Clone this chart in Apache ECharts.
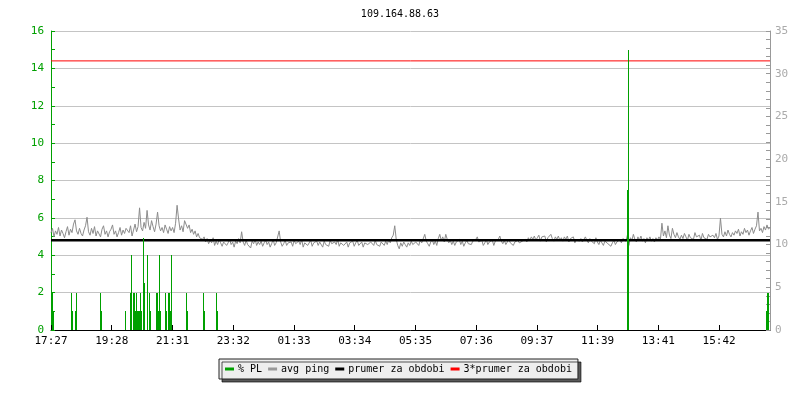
<!DOCTYPE html>
<html><head><meta charset="utf-8">
<script src="https://cdn.jsdelivr.net/npm/echarts@6/dist/echarts.min.js"></script>
<style>html,body{margin:0;padding:0;background:#fff}#c{width:800px;height:400px}</style>
</head><body><div id="c"></div>
<script>
const chartTitle = '109.164.88.63';
const xLabels = ['17:27','19:28','21:31','23:32','01:33','03:34','05:35','07:36','09:37','11:39','13:41','15:42'];
const xTickStep = 121.4;   // minutes between labelled ticks
const xMax = 1437;         // minutes shown (from 17:27)
const pingStep = 3;        // minutes between avg ping samples

// avg ping (ms), right axis
const avgPing = [
  11.4, 11.9, 10.9, 11.6, 11.2, 12.0, 11.0, 11.7, 11.3, 10.8, 11.5, 12.1, 11.1, 11.8, 11.4, 12.4, 12.9, 11.6, 11.2, 11.9,
  11.3, 11.0, 11.7, 12.2, 13.2, 11.5, 11.1, 11.9, 11.3, 12.1, 11.0, 11.6, 11.4, 10.9, 11.8, 12.2, 11.2, 11.6, 10.9, 11.5,
  11.8, 12.3, 11.2, 11.6, 10.9, 11.4, 12.0, 11.1, 11.7, 11.3, 11.9, 12.0, 11.4, 12.2, 11.0, 11.7, 12.4, 11.5, 12.1, 14.3,
  12.0, 11.6, 12.6, 11.9, 14.0, 12.3, 11.7, 12.8, 12.1, 11.5, 12.4, 13.8, 12.2, 11.6, 12.0, 11.4, 12.3, 11.8, 11.3, 12.1,
  11.6, 12.0, 11.4, 12.5, 14.6, 13.0, 11.7, 12.2, 11.5, 12.8, 12.6, 11.9, 12.3, 11.4, 11.8, 11.2, 11.6, 10.9, 11.3, 10.8,
  11.0, 10.6, 10.9, 10.3, 10.7, 10.1, 10.5, 10.2, 10.8, 9.9, 10.4, 10.0, 10.6, 10.2, 9.8, 10.3, 10.5, 9.9, 10.2, 10.6,
  10.0, 10.3, 9.7, 10.4, 10.1, 10.7, 10.2, 11.5, 10.3, 9.9, 10.5, 10.0, 10.2, 9.6, 10.4, 10.1, 10.6, 9.9, 10.3, 10.0,
  10.4, 9.8, 10.2, 10.5, 10.0, 10.3, 9.7, 10.1, 10.6, 9.9, 10.2, 10.4, 11.6, 10.3, 9.8, 10.1, 10.5, 9.9, 10.2, 10.0,
  10.3, 9.8, 10.5, 10.1, 9.9, 10.4, 10.0, 10.6, 9.7, 10.2, 10.3, 9.9, 10.1, 10.5, 9.8, 10.2, 10.0, 10.4, 9.9, 10.3,
  10.1, 9.7, 10.4, 10.0, 10.2, 9.8, 10.5, 10.1, 9.9, 10.3, 10.0, 10.6, 9.8, 10.2, 10.4, 9.9, 10.1, 10.3, 9.7, 10.2,
  10.0, 10.4, 9.8, 10.2, 10.5, 9.9, 10.1, 10.3, 9.7, 10.2, 10.4, 10.0, 9.8, 10.3, 10.1, 9.9, 10.5, 10.0, 10.2, 9.8,
  10.3, 10.1, 9.9, 10.4, 10.0, 10.6, 10.2, 10.8, 11.1, 12.2, 10.6, 9.9, 9.5, 10.2, 9.8, 10.3, 10.0, 9.7, 10.2, 9.9,
  10.4, 10.0, 9.8, 10.3, 10.1, 9.9, 10.5, 10.2, 10.0, 11.2, 10.4, 10.1, 9.8, 10.3, 10.6, 10.0, 10.4, 9.9, 10.7, 11.2,
  10.5, 10.9, 10.3, 11.2, 10.6, 10.2, 10.5, 10.0, 10.4, 9.9, 10.3, 10.1, 10.6, 10.0, 10.4, 9.8, 10.2, 10.5, 10.1, 10.3,
  10.0, 10.4, 10.2, 10.6, 10.9, 10.3, 10.1, 10.5, 9.9, 10.2, 10.6, 10.0, 10.3, 10.1, 10.5, 9.9, 10.4, 10.2, 10.6, 11.0,
  10.4, 10.1, 10.5, 10.0, 10.3, 10.6, 10.2, 10.4, 9.9, 10.3, 10.1, 10.5, 10.2, 10.0, 10.4, 10.2, 10.6, 10.3, 10.8, 10.5,
  10.9, 10.6, 11.0, 10.5, 10.8, 11.1, 10.4, 10.9, 10.7, 11.0, 10.3, 10.8, 10.6, 11.2, 10.7, 10.4, 10.9, 10.6, 11.0, 10.5,
  10.8, 10.4, 10.9, 10.6, 11.0, 10.3, 10.7, 10.5, 10.9, 10.2, 10.6, 10.8, 10.4, 10.7, 10.3, 10.6, 10.9, 10.5, 10.2, 10.7,
  10.4, 10.6, 10.1, 10.8, 10.3, 10.0, 10.5, 10.2, 9.9, 10.4, 10.6, 10.1, 10.3, 9.8, 10.2, 10.5, 10.0, 10.3, 10.1, 10.6,
  10.2, 10.7, 10.9, 10.4, 11.1, 9.9, 10.8, 10.5, 11.2, 10.6, 10.3, 10.9, 10.5, 11.0, 10.4, 10.7, 10.2, 10.8, 10.5, 10.9,
  10.4, 10.7, 10.3, 10.8, 10.5, 10.9, 10.6, 12.5, 11.0, 11.6, 10.8, 12.2, 11.1, 10.7, 11.9, 11.2, 10.8, 11.4, 10.9, 10.6,
  11.1, 10.7, 11.3, 10.9, 10.5, 11.2, 10.8, 11.0, 10.6, 11.4, 10.9, 10.7, 11.1, 10.5, 11.3, 10.8, 11.0, 10.6, 11.2, 10.9,
  10.7, 11.1, 10.8, 11.3, 10.6, 11.0, 13.1, 11.2, 10.9, 11.5, 11.0, 11.7, 11.2, 10.9, 11.4, 11.1, 11.6, 11.3, 11.8, 11.0,
  11.5, 11.2, 11.9, 11.4, 11.7, 11.1, 11.6, 12.0, 11.3, 11.8, 12.2, 13.8, 11.6, 11.9, 11.4, 12.1, 11.7, 12.3, 11.8, 12.0
];

// packet loss (%), left axis
const plMinutes = [2, 4, 40, 42, 48, 50, 98, 100, 148, 158, 160, 164, 166, 168, 170, 172, 174, 176, 178, 180,
  184, 186, 192, 196, 198, 210, 212, 214, 216, 218, 228, 230, 234, 236, 238, 240, 270, 272, 304, 306,
  330, 332, 1152, 1154, 1430, 1432, 1434];
const plValues = [2, 1, 2, 1, 1, 2, 2, 1, 1, 2, 4, 2, 2, 1, 2, 1, 1, 1, 2, 1,
  4.9, 2.5, 4, 2, 1, 2, 2, 1, 4, 1, 2, 1, 2, 2, 1, 4, 2, 1, 2, 1,
  2, 1, 7.5, 15, 1, 2, 2];

const periodAvg = 10.5;       // prumer za obdobi (ms)
const periodAvg3 = 31.5;      // 3*prumer za obdobi (ms)

const mono = 'DejaVu Sans Mono';
const green = '#00a000';
const chart = echarts.init(document.getElementById('c'));
const tickVals = xLabels.map((_, i) => i * xTickStep);

chart.setOption({
  animation: false,
  backgroundColor: '#fff',
  title: {
    text: chartTitle, left: 'center', top: 4,
    textStyle: { fontFamily: mono, fontSize: 10, fontWeight: 'normal', color: '#000' }
  },
  grid: { left: 51, right: 30, top: 31, bottom: 70, containLabel: false },
  legend: {
    left: 219, top: 359, padding: [5, 6], itemWidth: 9, itemHeight: 3, itemGap: 6,
    backgroundColor: '#eeeeee', borderColor: '#222', borderWidth: 1,
    shadowColor: 'rgba(0,0,0,0.65)', shadowOffsetX: 3, shadowOffsetY: 3, shadowBlur: 0,
    textStyle: { fontFamily: mono, fontSize: 10, color: '#000', padding: [0, 0, 0, -1] },
    data: [
      { name: '% PL', icon: 'rect' },
      { name: 'avg ping', icon: 'rect' },
      { name: 'prumer za obdobi', icon: 'rect' },
      { name: '3*prumer za obdobi', icon: 'rect' }
    ]
  },
  xAxis: {
    type: 'value', min: 0, max: xMax,
    axisLine: { lineStyle: { color: '#000', width: 1 } },
    axisTick: { show: true, inside: true, length: 5, customValues: tickVals, lineStyle: { color: '#000' } },
    axisLabel: {
      customValues: tickVals, color: '#000', fontFamily: mono, fontSize: 11, margin: 6,
      formatter: v => xLabels[Math.round(v / xTickStep)] || ''
    },
    splitLine: { show: false }
  },
  yAxis: [
    {
      type: 'value', min: 0, max: 16, interval: 2, position: 'left',
      axisLine: { show: true, lineStyle: { color: green } },
      axisTick: { show: true, inside: true, length: 4, lineStyle: { color: green } },
      minorTick: { show: true, splitNumber: 2, length: 4, lineStyle: { color: green } },
      splitLine: { show: true, lineStyle: { color: '#c4c4c4', width: 1 } },
      axisLabel: { color: green, fontFamily: mono, fontSize: 11, margin: 7 }
    },
    {
      type: 'value', min: 0, max: 35, interval: 5, position: 'right',
      axisLine: { show: true, lineStyle: { color: '#999' } },
      axisTick: { show: true, inside: true, length: 4, lineStyle: { color: '#999' } },
      minorTick: { show: true, splitNumber: 5, length: 4, lineStyle: { color: '#999' } },
      splitLine: { show: false },
      axisLabel: { color: '#aaa', fontFamily: mono, fontSize: 11, margin: 5 }
    }
  ],
  series: [
    {
      name: 'avg ping', type: 'line', yAxisIndex: 1, z: 2, color: '#999',
      showSymbol: false, symbol: 'none',
      lineStyle: { color: '#8c8c8c', width: 1 },
      data: avgPing.map((v, i) => [i * pingStep, v])
    },
    {
      name: 'prumer za obdobi', type: 'line', yAxisIndex: 1, z: 3, color: '#000',
      showSymbol: false, symbol: 'none',
      lineStyle: { color: '#000', width: 2.5 },
      data: [[0, periodAvg], [xMax, periodAvg]]
    },
    {
      name: '3*prumer za obdobi', type: 'line', yAxisIndex: 1, z: 3, color: '#f00',
      showSymbol: false, symbol: 'none',
      lineStyle: { color: '#f00', width: 1 },
      data: [[0, periodAvg3], [xMax, periodAvg3]]
    },
    {
      name: '% PL', type: 'custom', yAxisIndex: 0, z: 4, color: green,
      itemStyle: { color: green },
      data: plMinutes.map((m, i) => [m, plValues[i]]),
      encode: { x: 0, y: 1 },
      renderItem: (params, api) => {
        const top = api.coord([api.value(0), api.value(1)]);
        const base = api.coord([api.value(0), 0]);
        const x = Math.round(top[0]);
        return {
          type: 'rect',
          shape: { x: x, y: Math.round(top[1]), width: 1, height: Math.round(base[1]) - Math.round(top[1]) },
          style: { fill: green }
        };
      }
    }
  ]
});
</script>
</body></html>
